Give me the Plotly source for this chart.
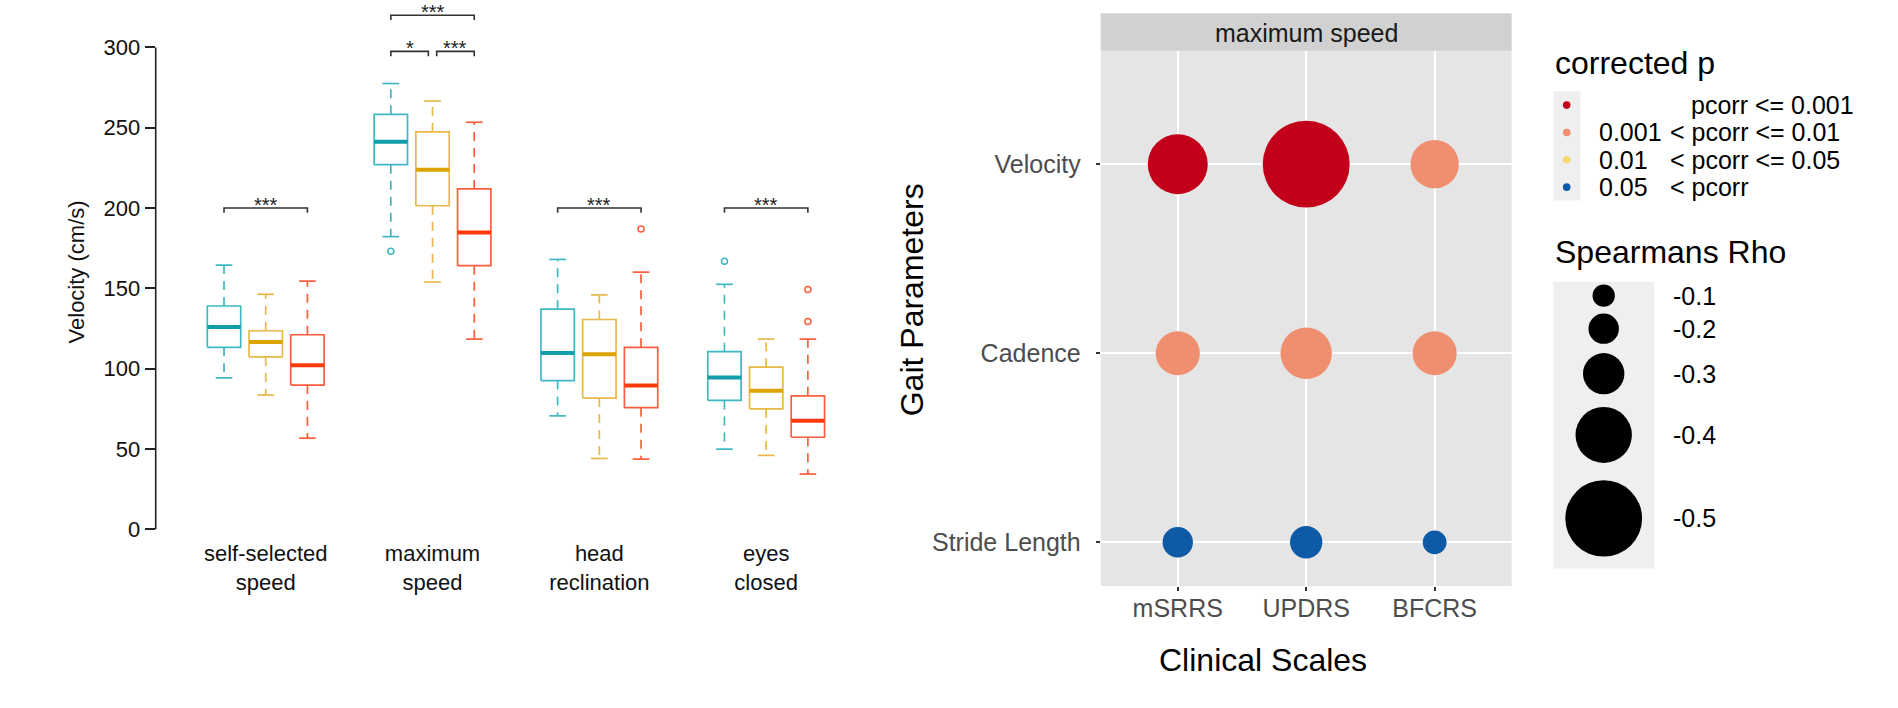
import numpy as np
import plotly.graph_objects as go

W, H = 1898, 708
FONT = "Liberation Sans, Arial, sans-serif"

# ---------------- data: left panel (box plot statistics, cm/s) ----------------
conditions = ["self-selected<br>speed", "maximum<br>speed", "head<br>reclination", "eyes<br>closed"]
group_names = ["group 1", "group 2", "group 3"]

g1_lower = [94.3, 182.2, 70.6, 49.9]
g1_q1 = [113.3, 227.0, 92.6, 80.2]
g1_med = [126.0, 241.2, 109.8, 94.5]
g1_q3 = [139.0, 258.3, 137.0, 110.6]
g1_upper = [164.4, 277.5, 168.0, 152.5]
g1_out = [[], [173.1], [], [166.9]]

g2_lower = [83.6, 153.9, 44.1, 46.0]
g2_q1 = [107.3, 201.4, 81.7, 74.9]
g2_med = [116.6, 223.9, 109.0, 86.2]
g2_q3 = [123.6, 247.4, 130.6, 100.9]
g2_upper = [146.3, 266.6, 145.9, 118.4]
g2_out = [[], [], [], []]

g3_lower = [56.7, 118.4, 43.7, 34.4]
g3_q1 = [89.8, 164.1, 75.7, 57.3]
g3_med = [102.1, 184.7, 89.5, 67.5]
g3_q3 = [121.1, 211.9, 113.3, 83.1]
g3_upper = [154.5, 253.4, 160.1, 118.4]
g3_out = [[], [], [187.0], [149.2, 129.4]]

# significance brackets: condition, from group, to group, height, label
sig_cond = [0, 1, 1, 1, 2, 3]
sig_from = [0, 0, 1, 0, 0, 0]
sig_to = [2, 1, 2, 2, 2, 2]
sig_y = [200, 297.5, 297.5, 320, 200, 200]
sig_label = ["***", "*", "***", "***", "***", "***"]

y_ticks = [0, 50, 100, 150, 200, 250, 300]

# ---------------- data: right panel (correlations) ----------------
scales = ["mSRRS", "UPDRS", "BFCRS"]
gait_params = ["Velocity", "Cadence", "Stride Length"]
rho_velocity = [-0.42, -0.54, -0.35]
rho_cadence = [-0.32, -0.37, -0.32]
rho_stride = [-0.20, -0.22, -0.12]
p_velocity = [0, 0, 1]   # index into p classes
p_cadence = [1, 1, 1]
p_stride = [3, 3, 3]
p_classes_lo = ["", "0.001", "0.01", "0.05"]
p_classes_hi = ["pcorr <= 0.001", "< pcorr <= 0.01", "< pcorr <= 0.05", "< pcorr"]
rho_breaks = [-0.1, -0.2, -0.3, -0.4, -0.5]

# ---------------- styles ----------------
BORDER = ["#3FB8C4", "#E8B849", "#FF5C3D"]
MEDIAN = ["#129DA8", "#DDA300", "#FF3A0A"]
P_COLORS = ["#C20019", "#EF8F6F", "#F5D874", "#0E5AA7"]
BOX_HALF, CAP_HALF = 0.4, 0.2
SIZE_D0, SIZE_K = 16.39, 3.089


def diam(rho):
    return SIZE_D0 * np.exp(SIZE_K * abs(rho))


def px(x):
    return x / W


def py(y):
    return 1 - y / H


def txt(size, color="#000000"):
    return dict(family=FONT, size=size, color=color)


fig = go.Figure()

# ---------------- left panel ----------------
stats = [
    (g1_lower, g1_q1, g1_med, g1_q3, g1_upper, g1_out),
    (g2_lower, g2_q1, g2_med, g2_q3, g2_upper, g2_out),
    (g3_lower, g3_q1, g3_med, g3_q3, g3_upper, g3_out),
]


def pos(ci, gi):
    return ci * 4 + gi + 1


for gi, (lo, q1, md, q3, up, out) in enumerate(stats):
    bx, by, mx, my, wx, wy, cx, cy, ox, oy = [], [], [], [], [], [], [], [], [], []
    for ci in range(len(conditions)):
        p = pos(ci, gi)
        bx += [p - BOX_HALF, p + BOX_HALF, p + BOX_HALF, p - BOX_HALF, p - BOX_HALF, None]
        by += [q1[ci], q1[ci], q3[ci], q3[ci], q1[ci], None]
        mx += [p - BOX_HALF, p + BOX_HALF, None]
        my += [md[ci], md[ci], None]
        wx += [p, p, None, p, p, None]
        wy += [q3[ci], up[ci], None, q1[ci], lo[ci], None]
        cx += [p - CAP_HALF, p + CAP_HALF, None, p - CAP_HALF, p + CAP_HALF, None]
        cy += [up[ci], up[ci], None, lo[ci], lo[ci], None]
        for v in out[ci]:
            ox.append(p)
            oy.append(v)
    common = dict(xaxis="x", yaxis="y", showlegend=False, hoverinfo="skip")
    fig.add_trace(go.Scatter(x=wx, y=wy, mode="lines",
                             line=dict(color=BORDER[gi], width=1.7, dash="9px,7px"), **common))
    fig.add_trace(go.Scatter(x=cx, y=cy, mode="lines",
                             line=dict(color=BORDER[gi], width=1.7), **common))
    fig.add_trace(go.Scatter(x=bx, y=by, mode="lines",
                             line=dict(color=BORDER[gi], width=1.7), **common))
    fig.add_trace(go.Scatter(x=mx, y=my, mode="lines",
                             line=dict(color=MEDIAN[gi], width=4), **common))
    if ox:
        fig.add_trace(go.Scatter(x=ox, y=oy, mode="markers",
                                 marker=dict(symbol="circle-open", size=6, color=BORDER[gi],
                                             line=dict(width=1.5)), **common))

# significance brackets
sx, sy = [], []
TICK_DROP = 3.0
for k in range(len(sig_cond)):
    x0 = pos(sig_cond[k], sig_from[k])
    x1 = pos(sig_cond[k], sig_to[k])
    if sig_from[k] == 1:
        x0 += 0.1
    if sig_to[k] == 1:
        x1 -= 0.1
    yv = sig_y[k]
    sx += [x0, x0, x1, x1, None]
    sy += [yv - TICK_DROP, yv, yv, yv - TICK_DROP, None]
    fig.add_annotation(x=(x0 + x1) / 2, y=yv, xref="x", yref="y", text=sig_label[k],
                       showarrow=False, xanchor="center", yanchor="bottom", yshift=-10,
                       font=txt(20, "#222222"))
fig.add_trace(go.Scatter(x=sx, y=sy, mode="lines", line=dict(color="#333333", width=1.6),
                         xaxis="x", yaxis="y", showlegend=False, hoverinfo="skip"))

# y axis line from 0 to 300
fig.add_shape(type="line", xref="paper", yref="y", x0=px(155.7), x1=px(155.7),
              y0=y_ticks[0], y1=y_ticks[-1], line=dict(color="#222222", width=1.6))

fig.add_annotation(x=px(76), y=py(274), xref="paper", yref="paper", text="Velocity (cm/s)",
                   textangle=-90, showarrow=False, xanchor="center", yanchor="middle",
                   font=txt(22, "#111111"))

# ---------------- right panel ----------------
bx_, by_, bs_, bc_ = [], [], [], []
for param, rhos, pcls in zip(gait_params, [rho_velocity, rho_cadence, rho_stride],
                             [p_velocity, p_cadence, p_stride]):
    for s, r, pc in zip(scales, rhos, pcls):
        bx_.append(s)
        by_.append(param)
        bs_.append(diam(r))
        bc_.append(P_COLORS[pc])
fig.add_trace(go.Scatter(x=bx_, y=by_, mode="markers", xaxis="x2", yaxis="y2",
                         marker=dict(size=bs_, color=bc_, line=dict(width=0), opacity=1),
                         showlegend=False, hoverinfo="skip"))

# panel background + strip
fig.add_shape(type="rect", xref="x2 domain", yref="y2 domain", x0=0, x1=1, y0=0, y1=1,
              fillcolor="#E5E5E5", line=dict(width=0), layer="below")
fig.add_shape(type="rect", xref="x2 domain", yref="paper", x0=0, x1=1, y0=py(51), y1=py(13.3),
              fillcolor="#D1D1D1", line=dict(width=0), layer="below")
fig.add_annotation(x=0.5, y=py(33.3), xref="x2 domain", yref="paper", text="maximum speed",
                   showarrow=False, xanchor="center", yanchor="middle", font=txt(25, "#1A1A1A"))
fig.add_annotation(x=px(912), y=py(302), xref="paper", yref="paper", text="Gait Parameters",
                   textangle=-90, showarrow=False, xanchor="center", yanchor="middle", font=txt(32))
fig.add_annotation(x=px(1263.3), y=py(663.3), xref="paper", yref="paper", text="Clinical Scales",
                   showarrow=False, xanchor="center", yanchor="middle", font=txt(32))

# ---------------- legends (drawn manually) ----------------
LX = 1553.3
fig.add_annotation(x=px(LX), y=py(63.3), xref="paper", yref="paper", text="corrected p",
                   showarrow=False, xanchor="left", yanchor="middle", font=txt(32))
fig.add_shape(type="rect", xref="paper", yref="paper", x0=px(LX), x1=px(1580.7),
              y0=py(201.7), y1=py(91.7), fillcolor="#EFEFEF", line=dict(width=0))
for i in range(len(P_COLORS)):
    cyy = 105.7 + 27.5 * i
    fig.add_shape(type="circle", xref="paper", yref="paper", x0=px(1566.7 - 3.8), x1=px(1566.7 + 3.8),
                  y0=py(cyy + 3.8), y1=py(cyy - 3.8), fillcolor=P_COLORS[i], line=dict(width=0))
    if p_classes_lo[i]:
        fig.add_annotation(x=px(1596.7), y=py(cyy), xref="paper", yref="paper", text=p_classes_lo[i],
                           showarrow=False, xanchor="left", yanchor="middle", font=txt(25))
        hx = 1668.3
    else:
        hx = 1689.3
    fig.add_annotation(x=px(hx), y=py(cyy), xref="paper", yref="paper", text=p_classes_hi[i],
                       showarrow=False, xanchor="left", yanchor="middle", font=txt(25))

fig.add_annotation(x=px(LX), y=py(253.3), xref="paper", yref="paper", text="Spearmans Rho",
                   showarrow=False, xanchor="left", yanchor="middle", font=txt(32))
key_h = [1.26 * diam(b) for b in rho_breaks]
top = 283.3
fig.add_shape(type="rect", xref="paper", yref="paper", x0=px(LX), x1=px(1654.3),
              y0=py(top + sum(key_h) + 2), y1=py(top), fillcolor="#EFEFEF", line=dict(width=0))
acc = top
for b, h in zip(rho_breaks, key_h):
    c = acc + h / 2
    r = diam(b) / 2
    fig.add_shape(type="circle", xref="paper", yref="paper", x0=px(1603.7 - r), x1=px(1603.7 + r),
                  y0=py(c + r), y1=py(c - r), fillcolor="#000000", line=dict(width=0))
    fig.add_annotation(x=px(1670.7), y=py(c), xref="paper", yref="paper", text=f"{b:.1f}",
                       showarrow=False, xanchor="left", yanchor="middle", font=txt(25))
    acc += h

# ---------------- layout ----------------
fig.update_layout(
    width=W, height=H, margin=dict(l=0, r=0, t=0, b=0),
    paper_bgcolor="white", plot_bgcolor="rgba(0,0,0,0)",
    font=dict(family=FONT),
    xaxis=dict(domain=[px(155.7), px(860)], range=[-0.638, 16.25],
               tickmode="array", tickvals=[pos(i, 1) for i in range(len(conditions))],
               ticktext=conditions, ticks="", showgrid=False, zeroline=False, showline=False,
               tickfont=txt(22, "#111111")),
    yaxis=dict(domain=[py(541), 1], range=[-5.39, 329.5], tickmode="array", tickvals=y_ticks,
               ticks="outside", ticklen=10, tickwidth=1.6, tickcolor="#222222",
               showgrid=False, zeroline=False, showline=False,
               tickfont=txt(22, "#111111")),
    xaxis2=dict(domain=[px(1100.7), px(1511.7)], anchor="y2", type="category",
                categoryorder="array", categoryarray=scales, range=[-0.6, 2.6],
                showgrid=True, gridcolor="white", gridwidth=2, zeroline=False, showline=False,
                ticks="outside", ticklen=4, tickcolor="#333333", tickwidth=1.5,
                ticklabelstandoff=-4,
                tickfont=txt(25, "#4D4D4D")),
    yaxis2=dict(domain=[py(589.3), py(51)], anchor="x2", type="category",
                categoryorder="array", categoryarray=gait_params[::-1], range=[-0.231, 2.6],
                showgrid=True, gridcolor="white", gridwidth=2, zeroline=False, showline=False,
                ticks="outside", ticklen=4, tickcolor="#333333", tickwidth=1.5,
                ticklabelstandoff=10,
                tickfont=txt(25, "#4D4D4D")),
)

fig.write_html("out.html", config={"displayModeBar": False},
               post_script="document.body.style.margin='0';")
